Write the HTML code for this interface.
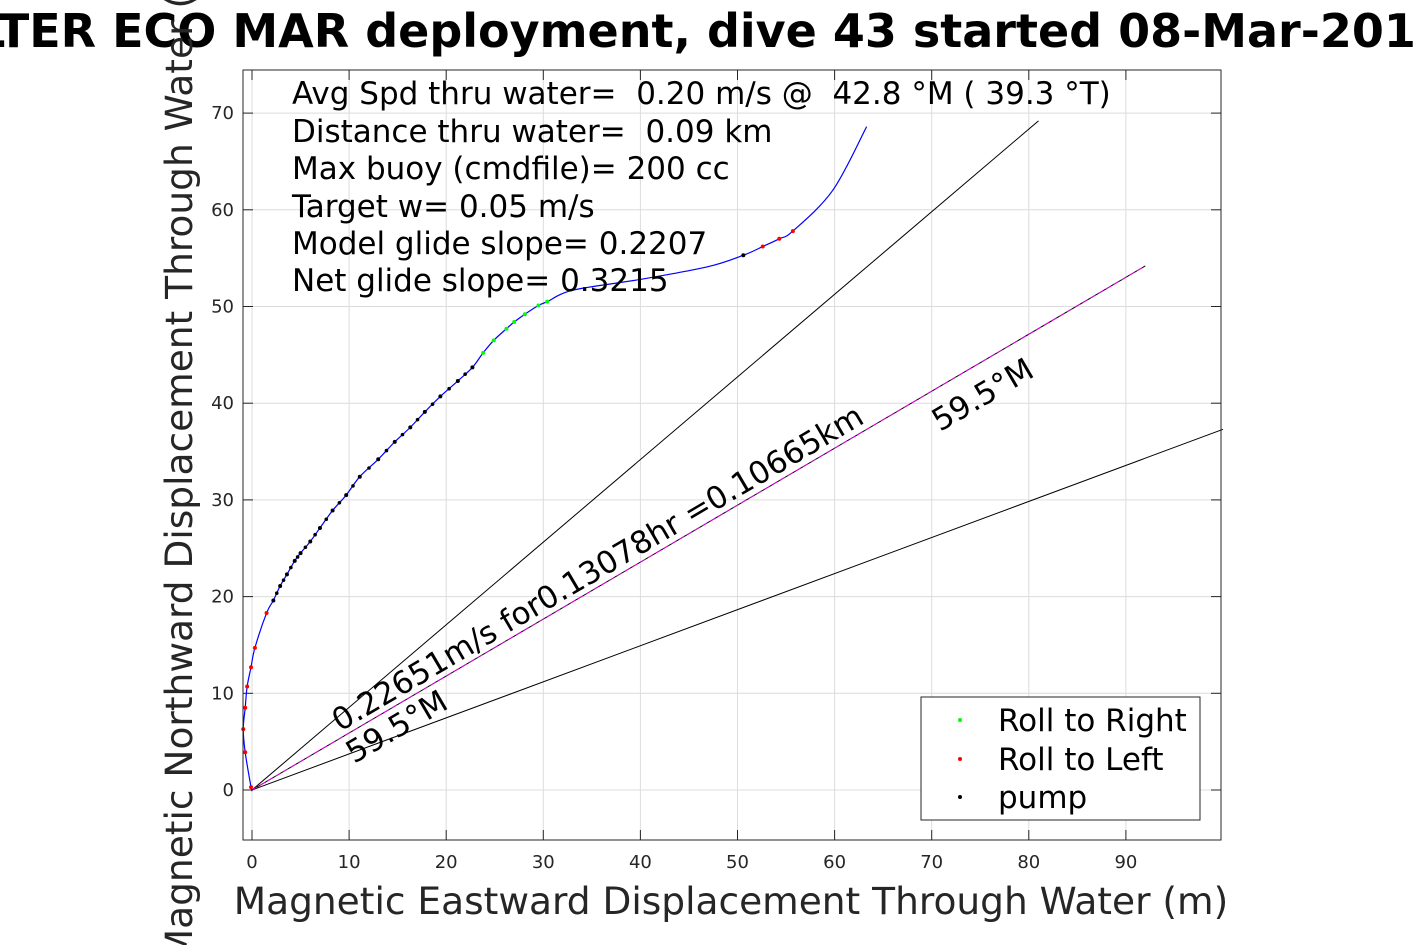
<!DOCTYPE html>
<html><head><meta charset="utf-8"><style>
body{margin:0;background:#fff;width:1417px;height:945px;overflow:hidden;font-family:"Liberation Sans","DejaVu Sans",sans-serif}
svg text{font-family:"DejaVu Sans","Liberation Sans",sans-serif;white-space:pre}
</style></head><body>
<svg id="c" width="1417" height="945">
<text x="712" y="47" font-size="46" font-weight="bold" text-anchor="middle">LTER ECO MAR deployment, dive 43 started 08-Mar-2019</text>
<rect x="243" y="70" width="978" height="770" fill="#fff" stroke="none"/>
<g id="grid"></g>
<g id="plot"></g>
<rect x="243" y="70" width="978" height="770" fill="none" stroke="#262626" stroke-width="1"/>
<text transform="translate(192,452) rotate(-90)" font-size="37.5" fill="#262626" text-anchor="middle">Magnetic Northward Displacement Through Water (m)</text>
<text x="731" y="914" font-size="37.5" fill="#262626" text-anchor="middle">Magnetic Eastward Displacement Through Water (m)</text>
<g font-size="31" fill="#000">
<text x="292" y="104">Avg Spd thru water=  0.20 m/s @  42.8 °M ( 39.3 °T)</text>
<text x="292" y="142">Distance thru water=  0.09 km</text>
<text x="292" y="179">Max buoy (cmdfile)= 200 cc</text>
<text x="292" y="217">Target w= 0.05 m/s</text>
<text x="292" y="254">Model glide slope= 0.2207</text>
<text x="292" y="291">Net glide slope= 0.3215</text>
</g>
<text transform="translate(340,732) rotate(-30.5)" font-size="31">0.22651m/s for0.13078hr =0.10665km</text>
<text transform="translate(940,432) rotate(-30.5)" font-size="31">59.5°M</text>
<text transform="translate(354,764) rotate(-30.5)" font-size="31">59.5°M</text>
<g>
<rect x="921" y="697" width="279" height="123" fill="#fff" stroke="#262626"/>
<circle cx="960" cy="720" r="2" fill="#00ff00"/><text x="998" y="731" font-size="31">Roll to Right</text>
<circle cx="960" cy="759" r="2" fill="#ff0000"/><text x="998" y="770" font-size="31">Roll to Left</text>
<circle cx="960" cy="797" r="2" fill="#000"/><text x="998" y="808" font-size="31">pump</text>
</g>
</svg>
<script>
const xTicks=[0,10,20,30,40,50,60,70,80,90];
const yTicks=[0,10,20,30,40,50,60,70];
const trackX=[0,-0.1,-0.7,-0.9,-0.7,-0.5,-0.1,0.3,1.5,2.2,2.9,3.6,4.4,5.0,6.0,7.0,8.3,9.7,11.1,13.0,14.7,16.3,17.8,19.4,21.2,22.7,23.8,24.9,26.2,27.0,28.1,29.5,30.4,33.1,40.0,46.9,50.6,52.6,54.3,55.7,59.8,63.3];
const trackY=[0,0.3,3.9,6.3,8.5,10.7,12.7,14.7,18.3,19.6,21.1,22.3,23.7,24.5,25.7,27.1,28.9,30.5,32.4,34.2,36.0,37.5,39.1,40.7,42.3,43.7,45.2,46.5,47.7,48.4,49.2,50.1,50.5,51.7,52.8,54.1,55.3,56.2,57.0,57.8,62.0,68.6];
const trackKind=["n","r","r","r","r","r","r","r","r","k","k","k","k","k","k","k","k","k","k","k","k","k","k","k","k","k","g","g","g","g","g","g","g","n","n","n","k","r","r","r","n","n"];
const rayEndX=[81,92,100];
const rayEndY=[69.2,54.2,37.3];
const X=v=>252+v*9.71, Y=v=>790-v*9.67;
const NS="http://www.w3.org/2000/svg";
const grid=document.getElementById('grid'), plot=document.getElementById('plot'), svg=document.getElementById('c');
function mk(tag,attrs,parent){const e=document.createElementNS(NS,tag);for(const k in attrs)e.setAttribute(k,attrs[k]);parent.appendChild(e);return e;}
xTicks.forEach(t=>{
 const l=mk('line',{x1:X(t),x2:X(t),y1:70,y2:840,stroke:'#dcdcdc'},grid);
 
 
 mk('line',{x1:X(t),x2:X(t),y1:840,y2:830,stroke:'#262626'},svg);
 mk('line',{x1:X(t),x2:X(t),y1:70,y2:80,stroke:'#262626'},svg);
 const tx=mk('text',{x:X(t),y:868,'font-size':18,fill:'#262626','text-anchor':'middle'},svg);
 tx.textContent=t;
 
 
});
yTicks.forEach(t=>{
 const l=mk('line',{x1:243,x2:1221,y1:Y(t),y2:Y(t),stroke:'#dcdcdc'},grid);
 
 
 mk('line',{x1:243,x2:253,y1:Y(t),y2:Y(t),stroke:'#262626'},svg);
 mk('line',{x1:1211,x2:1221,y1:Y(t),y2:Y(t),stroke:'#262626'},svg);
 const tx=mk('text',{x:234,y:Y(t)+6,'font-size':18,fill:'#262626','text-anchor':'end'},svg);
 tx.textContent=t;
 
 
});
rayEndX.forEach((ex,i)=>{
 const l=mk('line',{x1:X(0),y1:Y(0),x2:X(ex),y2:Y(rayEndY[i]),stroke:'#000','stroke-width':1},plot);
 
 
});
const mg=mk('line',{x1:X(0),y1:Y(0),x2:X(rayEndX[1]),y2:Y(rayEndY[1]),stroke:'#e000e0','stroke-width':1,'stroke-dasharray':'6 3'},plot);


let d=`M${X(trackX[0])},${Y(trackY[0])}`;
const P=trackX.map((x,i)=>[X(x),Y(trackY[i])]);
for(let i=0;i<P.length-1;i++){
 const p0=P[Math.max(0,i-1)],p1=P[i],p2=P[i+1],p3=P[Math.min(P.length-1,i+2)];
 d+=` C${p1[0]+(p2[0]-p0[0])/6},${p1[1]+(p2[1]-p0[1])/6} ${p2[0]-(p3[0]-p1[0])/6},${p2[1]-(p3[1]-p1[1])/6} ${p2[0]},${p2[1]}`;
}
const tr=mk('path',{d:d,fill:'none',stroke:'#0000ff','stroke-width':1.2},plot);


const col={r:'#ff0000',g:'#00ff00',k:'#000'};
trackX.forEach((x,i)=>{
 const k=trackKind[i]; if(k==='n')return;
 const c=mk('circle',{cx:X(x),cy:Y(trackY[i]),r:2,fill:col[k]},plot);
 
 
 if(k==='k'&&i+1<trackX.length&&trackKind[i+1]==='k'){
  const c2=mk('circle',{cx:(X(x)+X(trackX[i+1]))/2,cy:(Y(trackY[i])+Y(trackY[i+1]))/2,r:1.8,fill:'#000'},plot);
  
  
 }
});
</script>
</body></html>
